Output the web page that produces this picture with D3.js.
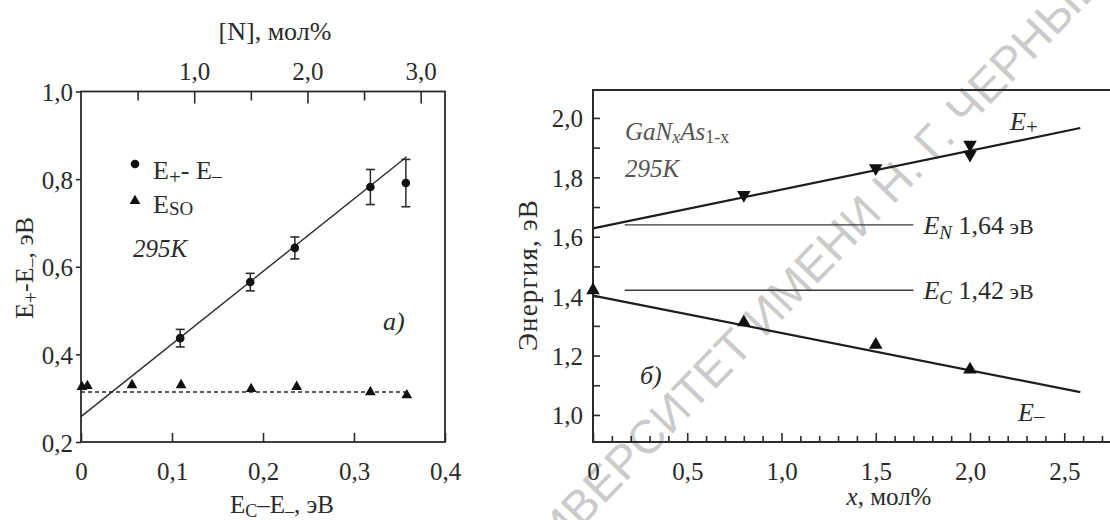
<!DOCTYPE html>
<html>
<head>
<meta charset="utf-8">
<script src="https://cdn.jsdelivr.net/npm/d3@7"></script>
<style>
  body { margin: 0; background: #fff; }
  text { font-family: "Liberation Serif", "Times New Roman", serif; fill: #2b2b2b; }
  .wm { font-family: "Liberation Sans", Arial, sans-serif; fill: #cbcbcb; }
</style>
</head>
<body>
<svg id="chart" width="1110" height="520"></svg>
<script>
// ---- panel а): splitting E+ - E- and spin-orbit energy vs E_C - E- ----
const splitX   = [0.109, 0.186, 0.235, 0.318, 0.357];
const splitVal = [0.437, 0.565, 0.643, 0.782, 0.791];
const splitErr = [0.020, 0.020, 0.025, 0.040, 0.054];
const soX      = [0.001, 0.007, 0.056, 0.110, 0.187, 0.237, 0.318, 0.358];
const soVal    = [0.326, 0.328, 0.330, 0.330, 0.321, 0.326, 0.314, 0.307];
const splitFitX = [0, 0.358];
const splitFitY = [0.258, 0.851];
const soLevelX  = [0, 0.358];
const soLevel   = 0.314;
const leftYTicks   = [0.2, 0.4, 0.6, 0.8, 1.0];
const leftXTicks   = [0, 0.1, 0.2, 0.3, 0.4];
const topNTicks    = [0.5, 1.0, 1.5, 2.0, 2.5, 3.0];
const topNLabelled = [1.0, 2.0, 3.0];

// ---- panel б): band energies of GaN_xAs_1-x vs nitrogen content ----
const plusX    = [0.8, 1.5, 2.0, 2.0];
const plusVal  = [1.741, 1.831, 1.910, 1.876];
const minusX   = [0, 0.8, 1.5, 2.0];
const minusVal = [1.420, 1.312, 1.236, 1.153];
const plusFitX  = [0, 2.585];
const plusFitY  = [1.628, 1.966];
const minusFitX = [0, 2.585];
const minusFitY = [1.402, 1.077];
const levelNames  = ["N", "C"];
const levelValues = [1.64, 1.42];
const levelText   = ["1,64", "1,42"];
const levelSpan   = [0.168, 1.70];
const rightYMajor = [1.0, 1.2, 1.4, 1.6, 1.8, 2.0];
const rightYMinor = [1.1, 1.3, 1.5, 1.7, 1.9];
const rightXMajor = [0, 0.5, 1.0, 1.5, 2.0, 2.5];
const rightXMinor = d3.range(1, 30).map(i => i / 10).filter(v => Math.abs(v * 2 - Math.round(v * 2)) > 1e-6);

const watermark = "УНИВЕРСИТЕТ ИМЕНИ Н. Г. ЧЕРНЫШЕВСКОГО";

const svg = d3.select("#chart");
svg.append("rect").attr("width", 1110).attr("height", 520).attr("fill", "#fff");

const comma = d => d === 0 ? "0" : d3.format(".1f")(d).replace(".", ",");
const INK = "#2b2b2b";
const FS = 25;

// background watermark
(function () {
  const f = 47, angle = -46;
  const wm = svg.append("text").attr("class", "wm").style("font-size", f + "px").text(watermark);
  const node = wm.node();
  const pre = node.getSubStringLength(0, 3), wB = node.getSubStringLength(3, 1);
  const a = angle * Math.PI / 180;
  const u = pre + wB / 2, v = -0.36 * f;
  const x0 = 580 - (u * Math.cos(a) - v * Math.sin(a));
  const y0 = 505 - (u * Math.sin(a) + v * Math.cos(a));
  wm.attr("transform", `translate(${x0},${y0}) rotate(${angle})`);
})();

// text with sub/italic runs
function rich(g, x, y, parts, opts = {}) {
  const t = g.append("text").attr("x", x).attr("y", y)
    .style("font-size", (opts.size || FS) + "px")
    .attr("text-anchor", opts.anchor || "start");
  if (opts.transform) t.attr("transform", opts.transform);
  if (opts.fill) t.style("fill", opts.fill);
  if (opts.spacing) t.style("letter-spacing", opts.spacing + "px");
  let shift = 0;
  parts.forEach(p => {
    const s = t.append("tspan").text(p.t);
    const target = p.sub ? (p.subShift || 6) : 0;
    if (target !== shift) { s.attr("dy", target - shift); shift = target; }
    if (p.sub) s.style("font-size", (p.size || (opts.size || FS) * 0.7) + "px");
    else if (p.size) s.style("font-size", p.size + "px");
    if (p.italic) s.style("font-style", "italic");
  });
  return t;
}

function styleAxis(g) {
  g.select(".domain").remove();
  g.selectAll("line").attr("stroke", INK).attr("stroke-width", 1.6);
  g.selectAll("text").style("font-size", FS + "px").style("font-family", "Liberation Serif").attr("fill", INK);
}

// ================= panel а) =================
const xL = d3.scaleLinear().domain([0, 0.4]).range([81, 445]);
const yL = d3.scaleLinear().domain([0.2, 1.0]).range([442, 91.5]);
const nTop = d3.scaleLinear().domain([0, 3.215]).range([81, 445]);
const gL = svg.append("g");

gL.append("g").attr("transform", `translate(0,${yL(0.2)})`)
  .call(d3.axisBottom(xL).tickValues(leftXTicks).tickSize(-9).tickPadding(20).tickFormat(comma))
  .call(styleAxis);
gL.append("g").attr("transform", `translate(${xL(0)},0)`)
  .call(d3.axisLeft(yL).tickValues(leftYTicks).tickSize(5).tickPadding(3).tickFormat(comma))
  .call(styleAxis)
  .call(g => g.selectAll("text").attr("dy", "0.36em"));
gL.append("g").attr("transform", `translate(0,${yL(1.0)})`)
  .call(d3.axisTop(nTop).tickValues(topNTicks).tickSize(-12).tickPadding(11.5)
    .tickFormat(d => topNLabelled.includes(d) ? comma(d) : ""))
  .call(styleAxis)
  .call(g => g.selectAll(".tick").filter(d => !topNLabelled.includes(d)).select("line").attr("y2", 9));

gL.append("rect").attr("x", xL(0)).attr("y", yL(1.0))
  .attr("width", xL(0.4) - xL(0)).attr("height", yL(0.2) - yL(1.0))
  .attr("fill", "none").attr("stroke", INK).attr("stroke-width", 1.8);

// fit lines
gL.append("line")
  .attr("x1", xL(splitFitX[0])).attr("y1", yL(splitFitY[0]))
  .attr("x2", xL(splitFitX[1])).attr("y2", yL(splitFitY[1]))
  .attr("stroke", INK).attr("stroke-width", 1.4);
gL.append("line")
  .attr("x1", xL(soLevelX[0])).attr("y1", yL(soLevel))
  .attr("x2", xL(soLevelX[1])).attr("y2", yL(soLevel))
  .attr("stroke", INK).attr("stroke-width", 1.4).attr("stroke-dasharray", "4,3");

// error bars + points
const splitData = splitX.map((x, i) => ({ x, y: splitVal[i], e: splitErr[i] }));
const eb = gL.append("g").selectAll("g").data(splitData).join("g");
eb.append("line").attr("x1", d => xL(d.x)).attr("x2", d => xL(d.x))
  .attr("y1", d => yL(d.y - d.e)).attr("y2", d => yL(d.y + d.e))
  .attr("stroke", INK).attr("stroke-width", 1.5);
eb.selectAll("line.cap").data(d => [d.y - d.e, d.y + d.e].map(v => ({ x: d.x, v }))).join("line")
  .attr("class", "cap")
  .attr("x1", d => xL(d.x) - 4.5).attr("x2", d => xL(d.x) + 4.5)
  .attr("y1", d => yL(d.v)).attr("y2", d => yL(d.v))
  .attr("stroke", INK).attr("stroke-width", 1.6);
eb.append("circle").attr("cx", d => xL(d.x)).attr("cy", d => yL(d.y)).attr("r", 4.3).attr("fill", "#111");

const triUp = d3.symbol().type(d3.symbolTriangle);
gL.append("g").selectAll("path").data(soX.map((x, i) => ({ x, y: soVal[i] }))).join("path")
  .attr("transform", d => `translate(${xL(d.x)},${yL(d.y)})`)
  .attr("d", triUp.size(50)).attr("fill", "#111");

// legend
gL.append("circle").attr("cx", 135).attr("cy", 164).attr("r", 4.3).attr("fill", "#111");
rich(gL, 153, 179, [{ t: "E" }, { t: "+", sub: true, size: 21, subShift: 5 }, { t: "- E" }, { t: "\u2013", sub: true, size: 20, subShift: 4 }], { size: 26 });
gL.append("path").attr("transform", "translate(135,201)").attr("d", triUp.size(50)).attr("fill", "#111");
rich(gL, 153, 213, [{ t: "E" }, { t: "SO", sub: true, size: 19, subShift: 2 }], { size: 26 });
gL.append("text").attr("x", 133).attr("y", 257).style("font-size", "25px").style("font-style", "italic").text("295K");
gL.append("text").attr("x", 383).attr("y", 330).style("font-size", "26px").style("font-style", "italic").text("a)");

// axis titles
gL.append("text").attr("x", 275).attr("y", 40).attr("text-anchor", "middle").style("font-size", "26px").text("[N], мол%");
rich(gL, 282, 513, [{ t: "E" }, { t: "C", sub: true, size: 18, subShift: 4 }, { t: "\u2013E" }, { t: "\u2013", sub: true, size: 18, subShift: 4 }, { t: ", эВ" }], { anchor: "middle", size: 25 });
rich(gL, 0, 0, [{ t: "E" }, { t: "+", sub: true, size: 20, subShift: 5 }, { t: "-E" }, { t: "\u2013", sub: true, size: 18, subShift: 4 }, { t: ", эВ" }],
  { anchor: "middle", size: 26, transform: "translate(33,268) rotate(-90)" });

// ================= panel б) =================
const xR = d3.scaleLinear().domain([0, 3.0]).range([593, 1158.5]);
const yR = d3.scaleLinear().domain([0.909, 2.094]).range([442, 90]);
const gR = svg.append("g");

gR.append("g").attr("transform", `translate(0,${yR.range()[0]})`)
  .call(d3.axisBottom(xR).tickValues(rightXMajor.concat(rightXMinor)).tickSize(-9).tickPadding(20)
    .tickFormat(d => rightXMajor.includes(d) ? comma(d) : ""))
  .call(styleAxis)
  .call(g => g.selectAll(".tick").filter(d => !rightXMajor.includes(d)).select("line").attr("y2", -6));
gR.append("g").attr("transform", `translate(${xR(0)},0)`)
  .call(d3.axisLeft(yR).tickValues(rightYMajor.concat(rightYMinor)).tickSize(-7).tickPadding(10)
    .tickFormat(d => rightYMajor.includes(d) ? comma(d) : ""))
  .call(styleAxis)
  .call(g => g.selectAll("text").attr("dy", "0.36em"));

// frame (right side runs past the page edge)
gR.append("path")
  .attr("d", `M${xR(3.0)},${yR.range()[1]}H${xR(0)}V${yR.range()[0]}H${xR(3.0)}`)
  .attr("fill", "none").attr("stroke", INK).attr("stroke-width", 2);

// reference levels
levelValues.forEach((v, i) => {
  gR.append("line").attr("x1", xR(levelSpan[0])).attr("x2", xR(levelSpan[1]))
    .attr("y1", yR(v)).attr("y2", yR(v)).attr("stroke", "#3a3a3a").attr("stroke-width", 1.4);
  rich(gR, xR(levelSpan[1]) + 10, yR(v) + 9, [
    { t: "E", italic: true }, { t: levelNames[i], sub: true, italic: true, size: 19, subShift: 5 },
    { t: " " + levelText[i], size: 26 }, { t: " эВ", size: 22 }
  ], { size: 26 });
});

// fit lines
[[plusFitX, plusFitY], [minusFitX, minusFitY]].forEach(([fx, fy]) => {
  gR.append("line").attr("x1", xR(fx[0])).attr("y1", yR(fy[0]))
    .attr("x2", xR(fx[1])).attr("y2", yR(fy[1]))
    .attr("stroke", "#1e1e1e").attr("stroke-width", 2.2);
});

// markers
gR.append("g").selectAll("path").data(plusX.map((x, i) => ({ x, y: plusVal[i] }))).join("path")
  .attr("transform", d => `translate(${xR(d.x)},${yR(d.y)}) rotate(180)`)
  .attr("d", triUp.size(80)).attr("fill", "#111");
gR.append("g").selectAll("path").data(minusX.map((x, i) => ({ x, y: minusVal[i] }))).join("path")
  .attr("transform", d => `translate(${xR(d.x)},${yR(d.y)})`)
  .attr("d", triUp.size(80)).attr("fill", "#111");

// labels
rich(gR, 1010, yR(1.99) + 9, [{ t: "E", italic: true }, { t: "+", sub: true, size: 21, subShift: 4 }], { size: 26 });
rich(gR, 1018, yR(1.01) + 9, [{ t: "E", italic: true }, { t: "\u2013", sub: true, size: 21, subShift: 2 }], { size: 26 });
rich(gR, 625, 140, [{ t: "GaN", italic: true }, { t: "x", sub: true, italic: true, size: 18, subShift: 3 },
  { t: "As", italic: true }, { t: "1-x", sub: true, size: 18, subShift: 3 }], { fill: "#555", size: 25 });
gR.append("text").attr("x", 625).attr("y", 177).style("font-size", "25px").style("font-style", "italic").style("fill", "#555").text("295K");
gR.append("text").attr("x", 640).attr("y", 384).style("font-size", "26px").style("font-style", "italic").text("б)");

rich(gR, 0, 0, [{ t: "Энергия, эВ" }], { anchor: "middle", size: 27, spacing: 1.2, transform: "translate(537,275) rotate(-90)" });
rich(gR, 889, 505, [{ t: "x", italic: true }, { t: ", мол%" }], { anchor: "middle", size: 25 });
</script>
</body>
</html>
